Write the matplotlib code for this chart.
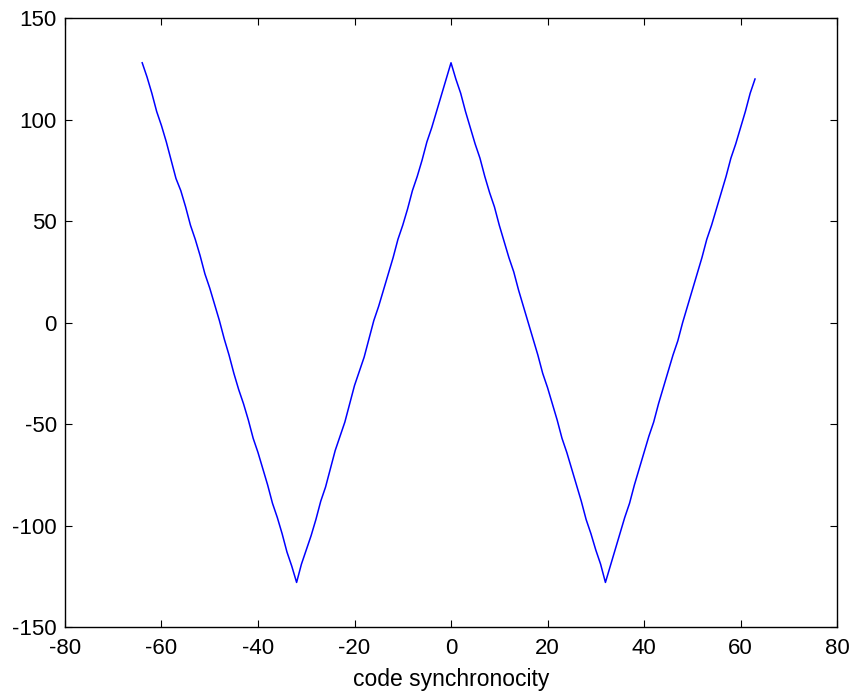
import matplotlib
matplotlib.use('Agg')
import matplotlib.pyplot as plt
import numpy as np

plt.rcParams['font.family'] = ['Liberation Sans', 'DejaVu Sans']
plt.rcParams['axes.unicode_minus'] = False

# lag values (code shift)
lags = np.arange(-64, 64)

# correlation values, one per lag
corr = [
    128, 121, 113, 104, 97, 89, 80, 71, 65, 57, 48, 41, 33, 24, 17, 9,
    1, -8, -16, -25, -33, -40, -48, -57, -64, -72, -80, -89, -96, -104, -113, -120,
    -128, -119, -112, -105, -97, -88, -81, -72, -63, -56, -49, -40, -31, -24, -17, -8,
    1, 8, 16, 24, 32, 41, 48, 56, 65, 72, 80, 89, 96, 104, 112, 120,
    128, 120, 113, 104, 96, 88, 81, 72, 64, 57, 48, 40, 32, 25, 16, 8,
    0, -8, -16, -25, -32, -40, -48, -57, -64, -72, -80, -88, -97, -104, -112, -119,
    -128, -120, -112, -104, -96, -89, -80, -72, -64, -56, -49, -40, -32, -24, -16, -9,
    0, 8, 16, 24, 32, 41, 48, 56, 64, 72, 81, 88, 96, 104, 113, 120,
]

fig = plt.figure(figsize=(8.55, 6.96), dpi=100)
ax = fig.add_axes([0.076, 0.099, 0.903, 0.875])

ax.plot(lags, corr, color='#0000ff', linewidth=1.1)

ax.set_xlim(-80, 80)
ax.set_ylim(-150, 150)
ax.set_xticks(np.arange(-80, 81, 20))
ax.set_yticks(np.arange(-150, 151, 50))
ax.tick_params(direction='in', length=5, labelsize=16, top=True, right=True)
ax.tick_params(axis='x', pad=8)
ax.tick_params(axis='y', pad=6)
ax.set_xlabel('code synchronocity', fontsize=16.5, labelpad=6)

for s in ax.spines.values():
    s.set_linewidth(1.0)

fig.savefig('out.png', dpi=100, facecolor='white')
plt.close(fig)
